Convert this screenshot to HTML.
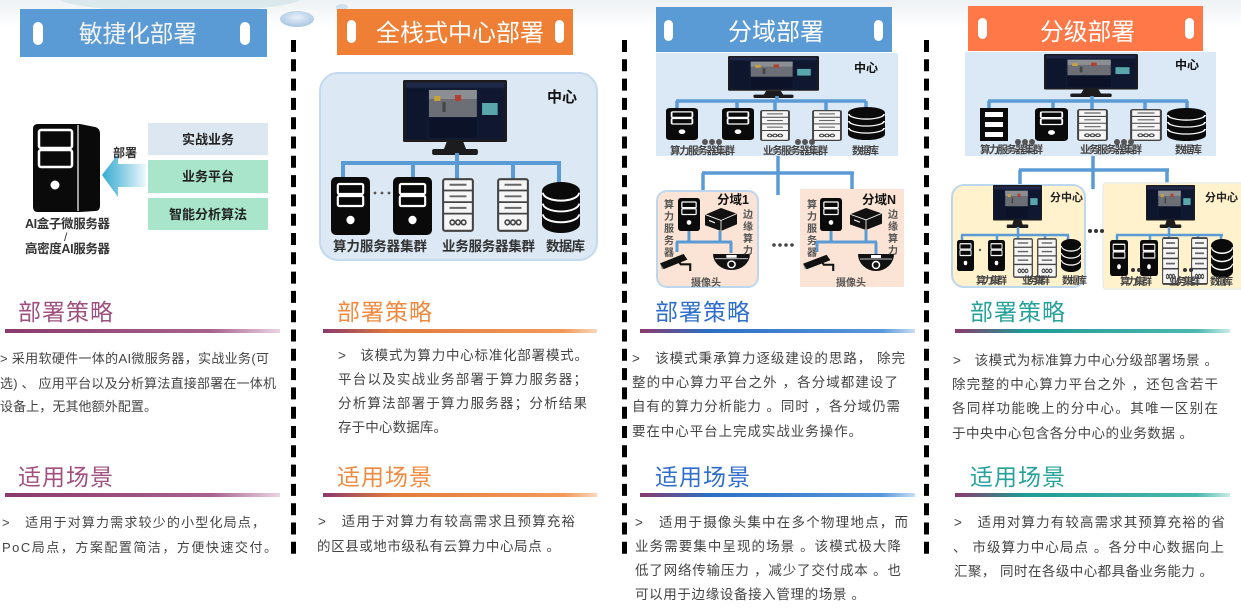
<!DOCTYPE html>
<html><head><meta charset="utf-8"><style>
html,body{margin:0;padding:0;background:#fff;}
svg{display:block;}
text{font-family:"Liberation Sans","Noto Sans CJK SC",sans-serif;white-space:pre;}
</style></head><body>
<svg width="1241" height="610" viewBox="0 0 1241 610" xmlns="http://www.w3.org/2000/svg" xml:space="preserve">
<defs>
<linearGradient id="topbg" x1="0" y1="0" x2="0" y2="1"><stop offset="0" stop-color="#eef2f4"/><stop offset="1" stop-color="#ffffff"/></linearGradient>
<linearGradient id="arr" x1="0" y1="0" x2="1" y2="0"><stop offset="0" stop-color="#35acd2"/><stop offset="0.5" stop-color="#8fd0e6"/><stop offset="1" stop-color="#eef8fb"/></linearGradient>
<linearGradient id="u1" x1="0" y1="0" x2="1" y2="0"><stop offset="0" stop-color="#8a3a6c"/><stop offset="0.75" stop-color="#a8628e"/><stop offset="1" stop-color="#ead4e2"/></linearGradient>
<linearGradient id="u2" x1="0" y1="0" x2="1" y2="0"><stop offset="0" stop-color="#8a3a6c"/><stop offset="0.25" stop-color="#e27a3c"/><stop offset="0.88" stop-color="#f39a5a"/><stop offset="1" stop-color="#fbd8bc"/></linearGradient>
<linearGradient id="u3" x1="0" y1="0" x2="1" y2="0"><stop offset="0" stop-color="#8a3a6c"/><stop offset="0.25" stop-color="#2b6fc2"/><stop offset="0.88" stop-color="#5a98dd"/><stop offset="1" stop-color="#c8ddf2"/></linearGradient>
<linearGradient id="u4" x1="0" y1="0" x2="1" y2="0"><stop offset="0" stop-color="#8a3a6c"/><stop offset="0.25" stop-color="#1f9a94"/><stop offset="0.88" stop-color="#4cb8b0"/><stop offset="1" stop-color="#c8ebe7"/></linearGradient>
<radialGradient id="blob" cx="0.5" cy="0.4" r="0.6"><stop offset="0" stop-color="#e8f1fa"/><stop offset="1" stop-color="#a9c6e2"/></radialGradient>

<symbol id="tw" viewBox="0 0 40 58" preserveAspectRatio="none">
<rect x="0" y="0" width="40" height="58" rx="5" fill="#0a0a0a"/>
<rect x="7" y="7" width="26" height="10" rx="1.5" fill="none" stroke="#fff" stroke-width="2.2"/>
<rect x="7" y="19" width="26" height="10" rx="1.5" fill="none" stroke="#fff" stroke-width="2.2"/>
<circle cx="20" cy="43" r="4.2" fill="#fff"/>
</symbol>
<symbol id="ws" viewBox="0 0 34 56" preserveAspectRatio="none">
<rect x="1.2" y="1.2" width="31.6" height="53.6" rx="2" fill="#f6f6f6" stroke="#444" stroke-width="2.2"/>
<line x1="1" y1="13" x2="33" y2="13" stroke="#444" stroke-width="1.8"/>
<line x1="1" y1="25" x2="33" y2="25" stroke="#444" stroke-width="1.8"/>
<line x1="1" y1="37" x2="33" y2="37" stroke="#444" stroke-width="1.8"/>
<line x1="8" y1="7" x2="26" y2="7" stroke="#666" stroke-width="2"/>
<line x1="8" y1="19" x2="26" y2="19" stroke="#666" stroke-width="2"/>
<line x1="8" y1="31" x2="26" y2="31" stroke="#666" stroke-width="2"/>
<circle cx="11" cy="46" r="2.4" fill="none" stroke="#444" stroke-width="1.7"/>
<circle cx="17" cy="46" r="2.4" fill="none" stroke="#444" stroke-width="1.7"/>
<circle cx="23" cy="46" r="2.4" fill="none" stroke="#444" stroke-width="1.7"/>
</symbol>
<symbol id="db" viewBox="0 0 40 52" preserveAspectRatio="none">
<path d="M0 9 A20 9 0 0 1 40 9 V43 A20 9 0 0 1 0 43 Z" fill="#0a0a0a"/>
<path d="M1 11 A19 8 0 0 0 39 11" stroke="#fff" stroke-width="2" fill="none"/>
<path d="M1 22 A19 8 0 0 0 39 22" stroke="#fff" stroke-width="2" fill="none"/>
<path d="M1 33 A19 8 0 0 0 39 33" stroke="#fff" stroke-width="2" fill="none"/>
</symbol>
<symbol id="mon" viewBox="0 0 100 75" preserveAspectRatio="none">
<rect x="0" y="0" width="100" height="62" rx="1.5" fill="#1c1c1e"/>
<rect x="2.5" y="2.5" width="95" height="57" fill="#111a33"/>
<rect x="2.5" y="2.5" width="95" height="5" fill="#20284a"/>
<rect x="3" y="9" width="20" height="50" fill="#0e162e"/>
<rect x="25" y="10" width="46" height="27" fill="#6c7076"/>
<rect x="25" y="10" width="46" height="9" fill="#8b8f93"/>
<rect x="30" y="16" width="6" height="5" fill="#c8a23a"/>
<rect x="50" y="15" width="6" height="6" fill="#b04030"/>
<rect x="38" y="22" width="3" height="10" fill="#444"/>
<rect x="25" y="38" width="46" height="20" fill="#0c1329"/>
<rect x="73" y="10" width="23" height="48" fill="#0f1830"/>
<rect x="76" y="23" width="15" height="12" fill="#5aa6ad"/>
<polygon points="42,62 58,62 61,70 39,70" fill="#1c1c1e"/>
<rect x="28" y="69" width="44" height="6" rx="2" fill="#1c1c1e"/>
</symbol>
<symbol id="cube" viewBox="0 0 32 24" preserveAspectRatio="none">
<path d="M0 7 L16 0 L32 6 L32 17 L16 24 L0 18 Z" fill="#111"/>
<path d="M0.5 7 L16 13 L31.5 6" stroke="#fff" stroke-width="0.9" fill="none"/>
<line x1="16" y1="13" x2="16" y2="24" stroke="#fff" stroke-width="0.8"/>
<line x1="4" y1="13" x2="10" y2="15.5" stroke="#fff" stroke-width="1.2"/>
</symbol>
<symbol id="bullet" viewBox="0 0 36 20" preserveAspectRatio="none">
<path d="M0 12 L25 2 L29 8 L4 18 Z" fill="#111"/>
<path d="M0 12 L4 18 L2 18 Z" fill="#888"/>
<path d="M20 10 L22 13 L32 13 L32 20" stroke="#111" stroke-width="2.2" fill="none"/>
</symbol>
<symbol id="dome" viewBox="0 0 36 18" preserveAspectRatio="none">
<path d="M0 0 H36 A18 17 0 0 1 0 0 Z" fill="#111"/>
<rect x="13" y="1" width="10" height="3" fill="#fff"/>
<line x1="2" y1="5" x2="34" y2="5" stroke="#fff" stroke-width="0.8"/>
<circle cx="18" cy="11" r="3.5" fill="none" stroke="#fff" stroke-width="1.5"/>
</symbol>
<symbol id="rack" viewBox="0 0 28 33" preserveAspectRatio="none">
<rect x="0" y="0" width="28" height="33" fill="#0a0a0a"/>
<rect x="5" y="4" width="18" height="5" fill="#fff"/>
<rect x="5" y="14" width="18" height="5" fill="#fff"/>
<rect x="5" y="24" width="18" height="5" fill="#fff"/>
</symbol>
</defs>

<!-- background -->
<rect x="0" y="0" width="1241" height="610" fill="#fff"/>
<rect x="0" y="0" width="1241" height="28" fill="url(#topbg)"/>
<ellipse cx="180" cy="-4" rx="125" ry="16" fill="#d6e6ea" opacity="0.8"/>
<ellipse cx="297" cy="19" rx="17" ry="8" fill="url(#blob)"/>
<ellipse cx="342" cy="7" rx="6" ry="3" fill="#cfe0ef"/>

<!-- separators -->
<line x1="293.5" y1="40" x2="293.5" y2="558" stroke="#000" stroke-width="5" stroke-dasharray="12 7.3"/>
<line x1="624.5" y1="40" x2="624.5" y2="558" stroke="#000" stroke-width="5" stroke-dasharray="12 7.3"/>
<line x1="926.5" y1="40" x2="926.5" y2="558" stroke="#000" stroke-width="5" stroke-dasharray="12 7.3"/>

<!-- ===== Column 1 ===== -->
<rect x="20" y="9" width="247" height="48" fill="#5b9bd5"/>
<rect x="33" y="22" width="10" height="23" rx="5" fill="#fff"/>
<rect x="240" y="22" width="10" height="23" rx="5" fill="#fff"/>
<text x="79" y="42" font-size="24" fill="#f4f4f4" textLength="118" lengthAdjust="spacingAndGlyphs">敏捷化部署</text>

<path d="M38 124 H80 L95 127 Q100 128 100 134 V206 Q100 211 95 211 L80 212 H38 Q33 212 33 207 V129 Q33 124 38 124 Z" fill="#0a0a0a"/>
<line x1="78" y1="125" x2="78" y2="211" stroke="#fff" stroke-width="1.2"/>
<rect x="39" y="130" width="33" height="18" rx="2" fill="none" stroke="#fff" stroke-width="2.5"/>
<rect x="39" y="150" width="33" height="17" rx="2" fill="none" stroke="#fff" stroke-width="2.5"/>
<circle cx="55" cy="185" r="4.5" fill="#fff"/>
<polygon points="102,175 118,154 118,164 146,164 146,187 118,187 118,197" fill="url(#arr)"/>
<text x="113" y="157" font-size="12" font-weight="bold" fill="#333" textLength="24">部署</text>
<rect x="148" y="123" width="120" height="32" fill="#dde7f2"/>
<rect x="148" y="160" width="120" height="33" fill="#a9e5cb"/>
<rect x="148" y="198" width="120" height="32" fill="#a9e5cb"/>
<text x="208" y="144" font-size="13" font-weight="bold" fill="#222" text-anchor="middle">实战业务</text>
<text x="208" y="181" font-size="13" font-weight="bold" fill="#222" text-anchor="middle">业务平台</text>
<text x="208" y="219" font-size="13" font-weight="bold" fill="#222" text-anchor="middle">智能分析算法</text>
<text x="25" y="228" font-size="12.5" font-weight="bold" fill="#333" textLength="85">AI盒子微服务器</text>
<text x="64" y="241" font-size="12" fill="#333">/</text>
<text x="25" y="253" font-size="12.5" font-weight="bold" fill="#333" textLength="85">高密度AI服务器</text>

<text x="18" y="320" font-size="23" fill="#a0507f" textLength="95">部署策略</text>
<rect x="5" y="329" width="275" height="4" fill="url(#u1)"/>
<g font-size="13" fill="#444">
<text x="0" y="363" textLength="269" lengthAdjust="spacing">&gt; 采用软硬件一体的AI微服务器，实战业务(可</text>
<text x="0" y="388" textLength="276" lengthAdjust="spacing">选) 、 应用平台以及分析算法直接部署在一体机</text>
<text x="0" y="411" textLength="157" lengthAdjust="spacing">设备上，无其他额外配置。</text>
</g>
<text x="18" y="485" font-size="23" fill="#a0507f" textLength="95">适用场景</text>
<rect x="5" y="493" width="275" height="4" fill="url(#u1)"/>
<g font-size="13" fill="#444">
<text x="2" y="527" textLength="263" lengthAdjust="spacing">&gt;   适用于对算力需求较少的小型化局点，</text>
<text x="2" y="552" textLength="275" lengthAdjust="spacing">PoC局点，方案配置简洁，方便快速交付。</text>
</g>

<!-- ===== Column 2 ===== -->
<rect x="337" y="9" width="236" height="46" fill="#ee7f35"/>
<rect x="347" y="20" width="9" height="23" rx="4.5" fill="#fff"/>
<rect x="555" y="20" width="9" height="23" rx="4.5" fill="#fff"/>
<text x="376" y="41" font-size="24" fill="#fff" textLength="168" lengthAdjust="spacingAndGlyphs">全栈式中心部署</text>

<rect x="320" y="73" width="277" height="187" rx="18" fill="#dce9f5" stroke="#c2d9ee" stroke-width="2"/>
<use href="#mon" x="403" y="80" width="104" height="75"/>
<text x="547" y="102" font-size="15" font-weight="bold" fill="#111">中心</text>
<g stroke="#5b9bd5" stroke-width="4" fill="none">
<line x1="341" y1="163" x2="561" y2="163"/>
<line x1="457" y1="153" x2="457" y2="163"/>
<line x1="343" y1="163" x2="343" y2="180"/>
<line x1="413" y1="163" x2="413" y2="180"/>
<line x1="457" y1="163" x2="457" y2="180"/>
<line x1="513" y1="163" x2="513" y2="180"/>
<line x1="559" y1="163" x2="559" y2="184"/>
</g>
<use href="#tw" x="331" y="177" width="39" height="58"/>
<use href="#tw" x="393" y="177" width="39" height="58"/>
<circle cx="375" cy="193" r="1.4" fill="#555"/><circle cx="382" cy="193" r="1.4" fill="#555"/><circle cx="389" cy="193" r="1.4" fill="#555"/>
<use href="#ws" x="442" y="178" width="32" height="54"/>
<use href="#ws" x="497" y="178" width="32" height="54"/>
<use href="#db" x="542" y="182" width="38" height="51"/>
<g font-size="13.5" font-weight="bold" fill="#333">
<text x="333" y="251" textLength="94">算力服务器集群</text>
<text x="442" y="251" textLength="93">业务服务器集群</text>
<text x="546" y="251" textLength="39">数据库</text>
</g>

<text x="337" y="320" font-size="23" fill="#f08a40" textLength="95">部署策略</text>
<rect x="323" y="329" width="274" height="4" fill="url(#u2)"/>
<g font-size="13.5" fill="#444">
<text x="338" y="360" textLength="250" lengthAdjust="spacing">&gt;   该模式为算力中心标准化部署模式。</text>
<text x="338" y="384" textLength="249" lengthAdjust="spacing">平台以及实战业务部署于算力服务器；</text>
<text x="338" y="408" textLength="249" lengthAdjust="spacing">分析算法部署于算力服务器；分析结果</text>
<text x="338" y="432" textLength="109" lengthAdjust="spacing">存于中心数据库。</text>
</g>
<text x="337" y="485" font-size="23" fill="#f08a40" textLength="95">适用场景</text>
<rect x="323" y="493" width="274" height="4" fill="url(#u2)"/>
<g font-size="13.5" fill="#444">
<text x="318" y="526" textLength="257" lengthAdjust="spacing">&gt;   适用于对算力有较高需求且预算充裕</text>
<text x="317" y="551" textLength="243" lengthAdjust="spacing">的区县或地市级私有云算力中心局点 。</text>
</g>

<!-- ===== Column 3 ===== -->
<rect x="656" y="7" width="236" height="45" fill="#5b9bd5"/>
<rect x="664" y="20" width="9" height="21" rx="4.5" fill="#fff"/>
<rect x="874" y="20" width="9" height="21" rx="4.5" fill="#fff"/>
<text x="728" y="40" font-size="24" fill="#fff" textLength="96" lengthAdjust="spacingAndGlyphs">分域部署</text>

<rect x="656" y="53" width="242" height="103" fill="#dbe8f5"/>
<use href="#mon" x="728" y="56" width="91" height="42"/>
<text x="854" y="72" font-size="12" font-weight="bold" fill="#111">中心</text>
<g stroke="#5b9bd5" stroke-width="3.5" fill="none">
<line x1="676" y1="101" x2="866" y2="101"/>
<line x1="777" y1="96" x2="777" y2="101"/>
<line x1="677" y1="101" x2="677" y2="110"/>
<line x1="737" y1="101" x2="737" y2="110"/>
<line x1="775" y1="101" x2="775" y2="111"/>
<line x1="826" y1="101" x2="826" y2="111"/>
<line x1="866" y1="101" x2="866" y2="110"/>
<line x1="778" y1="156" x2="778" y2="195"/>
<line x1="702" y1="173" x2="854" y2="173"/>
<line x1="703" y1="173" x2="703" y2="192"/>
<line x1="852" y1="173" x2="852" y2="190"/>
</g>
<use href="#tw" x="666" y="108" width="32" height="32"/>
<use href="#tw" x="722" y="108" width="32" height="32"/>
<use href="#ws" x="760" y="110" width="30" height="31"/>
<use href="#ws" x="812" y="110" width="30" height="31"/>
<use href="#db" x="848" y="107" width="37" height="33"/>
<g fill="#555"><circle cx="705" cy="142" r="3"/><circle cx="712" cy="142" r="3"/><circle cx="719" cy="142" r="3"/>
<circle cx="798" cy="142" r="3"/><circle cx="805" cy="142" r="3"/><circle cx="812" cy="142" r="3"/></g>
<g font-size="10.5" font-weight="bold" fill="#444">
<text x="670" y="154" textLength="65">算力服务器集群</text>
<text x="763" y="154" textLength="65">业务服务器集群</text>
<text x="852" y="154" textLength="27">数据库</text>
</g>

<rect x="657" y="191" width="101" height="96" rx="10" fill="#fbe4d5" stroke="#bdd7ee" stroke-width="2"/>
<rect x="800" y="189" width="104" height="98" fill="#fbe4d5"/>
<g fill="#444"><circle cx="774" cy="245" r="1.8"/><circle cx="780" cy="245" r="1.8"/><circle cx="786" cy="245" r="1.8"/><circle cx="792" cy="245" r="1.8"/></g>

<!-- 分域1 -->
<text x="717" y="204" font-size="12.5" font-weight="bold" fill="#111">分域1</text>
<use href="#tw" x="678" y="198" width="22" height="33"/>
<use href="#cube" x="705" y="208" width="32" height="23"/>
<g stroke="#5b9bd5" stroke-width="3" fill="none">
<line x1="689" y1="231" x2="689" y2="242"/>
<line x1="720" y1="231" x2="720" y2="242"/>
<line x1="676" y1="242" x2="732" y2="242"/>
<line x1="677" y1="242" x2="677" y2="252"/>
<line x1="731" y1="242" x2="731" y2="253"/>
</g>
<use href="#bullet" x="660" y="252" width="34" height="19"/>
<use href="#dome" x="713" y="254" width="37" height="17"/>
<g font-size="10" font-weight="bold" fill="#555" text-anchor="middle">
<text x="669" y="208">算</text><text x="669" y="220">力</text><text x="669" y="232">服</text><text x="669" y="244">务</text><text x="669" y="256">器</text>
<text x="748" y="218">边</text><text x="748" y="230">缘</text><text x="748" y="242">算</text><text x="748" y="254">力</text>
<text x="706" y="286">摄像头</text>
</g>

<!-- 分域N -->
<text x="862" y="204" font-size="12.5" font-weight="bold" fill="#111">分域N</text>
<use href="#tw" x="820" y="198" width="22" height="33"/>
<use href="#cube" x="850" y="208" width="32" height="22"/>
<g stroke="#5b9bd5" stroke-width="3" fill="none">
<line x1="831" y1="231" x2="831" y2="242"/>
<line x1="866" y1="230" x2="866" y2="242"/>
<line x1="816" y1="242" x2="877" y2="242"/>
<line x1="817" y1="242" x2="817" y2="252"/>
<line x1="876" y1="242" x2="876" y2="254"/>
</g>
<use href="#bullet" x="803" y="253" width="34" height="18"/>
<use href="#dome" x="858" y="254" width="36" height="18"/>
<g font-size="10" font-weight="bold" fill="#555" text-anchor="middle">
<text x="812" y="208">算</text><text x="812" y="220">力</text><text x="812" y="232">服</text><text x="812" y="244">务</text><text x="812" y="256">器</text>
<text x="893" y="218">边</text><text x="893" y="230">缘</text><text x="893" y="242">算</text><text x="893" y="254">力</text>
<text x="851" y="286">摄像头</text>
</g>

<text x="655" y="320" font-size="23" fill="#2f6fcb" textLength="95">部署策略</text>
<rect x="640" y="329" width="275" height="4" fill="url(#u3)"/>
<g font-size="13.5" fill="#444">
<text x="632" y="363" textLength="273" lengthAdjust="spacing">&gt;   该模式秉承算力逐级建设的思路， 除完</text>
<text x="632" y="387" textLength="266" lengthAdjust="spacing">整的中心算力平台之外 ，各分域都建设了</text>
<text x="632" y="411" textLength="268" lengthAdjust="spacing">自有的算力分析能力 。同时 ，各分域仍需</text>
<text x="632" y="436" textLength="230" lengthAdjust="spacing">要在中心平台上完成实战业务操作。</text>
</g>
<text x="655" y="485" font-size="23" fill="#2f6fcb" textLength="95">适用场景</text>
<rect x="640" y="493" width="275" height="4" fill="url(#u3)"/>
<g font-size="13.5" fill="#444">
<text x="635" y="527" textLength="273" lengthAdjust="spacing">&gt;   适用于摄像头集中在多个物理地点，而</text>
<text x="635" y="551" textLength="266" lengthAdjust="spacing">业务需要集中呈现的场景 。该模式极大降</text>
<text x="635" y="575" textLength="266" lengthAdjust="spacing">低了网络传输压力 ，减少了交付成本 。也</text>
<text x="635" y="599" textLength="230" lengthAdjust="spacing">可以用于边缘设备接入管理的场景 。</text>
</g>

<!-- ===== Column 4 ===== -->
<rect x="968" y="6" width="235" height="45" fill="#fe7848"/>
<rect x="978" y="18" width="9" height="21" rx="4.5" fill="#fff"/>
<rect x="1185" y="18" width="9" height="21" rx="4.5" fill="#fff"/>
<text x="1040" y="40" font-size="24" fill="#fff" textLength="95" lengthAdjust="spacingAndGlyphs">分级部署</text>

<rect x="965" y="52" width="251" height="104" fill="#dbe8f5"/>
<use href="#mon" x="1044" y="54" width="94" height="43"/>
<text x="1175" y="69" font-size="12" font-weight="bold" fill="#111">中心</text>
<g stroke="#5b9bd5" stroke-width="3.5" fill="none">
<line x1="988" y1="101" x2="1188" y2="101"/>
<line x1="1092" y1="96" x2="1092" y2="101"/>
<line x1="989" y1="101" x2="989" y2="109"/>
<line x1="1053" y1="101" x2="1053" y2="109"/>
<line x1="1092" y1="101" x2="1092" y2="110"/>
<line x1="1145" y1="101" x2="1145" y2="110"/>
<line x1="1187" y1="101" x2="1187" y2="110"/>
<line x1="1093" y1="156" x2="1093" y2="189"/>
<line x1="1019" y1="170" x2="1169" y2="170"/>
<line x1="1020" y1="170" x2="1020" y2="187"/>
<line x1="1167" y1="170" x2="1167" y2="185"/>
</g>
<use href="#rack" x="980" y="108" width="28" height="33"/>
<use href="#tw" x="1035" y="108" width="33" height="33"/>
<use href="#ws" x="1077" y="109" width="31" height="32"/>
<use href="#ws" x="1130" y="109" width="32" height="32"/>
<use href="#db" x="1167" y="108" width="39" height="33"/>
<g fill="#555"><circle cx="1018" cy="142" r="3"/><circle cx="1025" cy="142" r="3"/><circle cx="1032" cy="142" r="3"/>
<circle cx="1117" cy="142" r="3"/><circle cx="1124" cy="142" r="3"/><circle cx="1131" cy="142" r="3"/></g>
<g font-size="10.5" font-weight="bold" fill="#444">
<text x="980" y="153" textLength="63">算力服务器集群</text>
<text x="1080" y="153" textLength="62">业务服务器集群</text>
<text x="1175" y="153" textLength="27">数据库</text>
</g>

<rect x="952" y="185" width="133" height="102" rx="12" fill="#fff2cc" stroke="#bdd7ee" stroke-width="2"/>
<rect x="1103" y="183" width="140" height="106" rx="3" fill="#fff2cc" stroke="#ececec" stroke-width="1.5"/>
<g fill="#333"><circle cx="1090" cy="231" r="2"/><circle cx="1096" cy="231" r="2"/><circle cx="1102" cy="231" r="2"/></g>

<!-- left sub center -->
<use href="#mon" x="993" y="185" width="49" height="43"/>
<text x="1050" y="201" font-size="11" font-weight="bold" fill="#222">分中心</text>
<g stroke="#5b9bd5" stroke-width="2.5" fill="none">
<line x1="961" y1="235" x2="1069" y2="235"/>
<line x1="1018" y1="227" x2="1018" y2="235"/>
<line x1="962" y1="235" x2="962" y2="241"/>
<line x1="997" y1="235" x2="997" y2="241"/>
<line x1="1018" y1="235" x2="1018" y2="240"/>
<line x1="1045" y1="235" x2="1045" y2="240"/>
<line x1="1068" y1="235" x2="1068" y2="241"/>
</g>
<use href="#tw" x="957" y="240" width="17" height="31"/>
<use href="#tw" x="988" y="240" width="17" height="31"/>
<use href="#ws" x="1013" y="238" width="20" height="40"/>
<use href="#ws" x="1037" y="238" width="20" height="40"/>
<use href="#db" x="1061" y="239" width="20" height="33"/>
<circle cx="980" cy="250" r="1.2" fill="#555"/>
<g font-size="10" font-weight="bold" fill="#444">
<text x="976" y="284" textLength="31">算力集群</text>
<text x="1022" y="284" textLength="28">业务集群</text>
<text x="1062" y="284" textLength="25">数据库</text>
</g>

<!-- right sub center -->
<use href="#mon" x="1146" y="185" width="49" height="43"/>
<text x="1205" y="201" font-size="11" font-weight="bold" fill="#222">分中心</text>
<g stroke="#5b9bd5" stroke-width="2.5" fill="none">
<line x1="1116" y1="235" x2="1223" y2="235"/>
<line x1="1169" y1="227" x2="1169" y2="235"/>
<line x1="1117" y1="235" x2="1117" y2="241"/>
<line x1="1150" y1="235" x2="1150" y2="241"/>
<line x1="1169" y1="235" x2="1169" y2="238"/>
<line x1="1198" y1="235" x2="1198" y2="238"/>
<line x1="1221" y1="235" x2="1221" y2="241"/>
</g>
<use href="#tw" x="1110" y="240" width="18" height="36"/>
<use href="#tw" x="1140" y="240" width="18" height="36"/>
<use href="#ws" x="1162" y="237" width="17" height="48"/>
<use href="#ws" x="1191" y="237" width="17" height="48"/>
<use href="#db" x="1211" y="239" width="22" height="39"/>
<g fill="#333"><circle cx="1133" cy="270" r="2"/><circle cx="1139" cy="270" r="2"/><circle cx="1185" cy="270" r="2"/><circle cx="1191" cy="270" r="2"/></g>
<g font-size="10" font-weight="bold" fill="#444">
<text x="1120" y="285" textLength="32">算力集群</text>
<text x="1169" y="285" textLength="31">业务集群</text>
<text x="1210" y="285" textLength="23">数据库</text>
</g>

<text x="970" y="320" font-size="23" fill="#26a29a" textLength="95">部署策略</text>
<rect x="955" y="329" width="275" height="4" fill="url(#u4)"/>
<g font-size="13.5" fill="#444">
<text x="953" y="365" textLength="265" lengthAdjust="spacing">&gt;   该模式为标准算力中心分级部署场景 。</text>
<text x="952" y="389" textLength="266" lengthAdjust="spacing">除完整的中心算力平台之外 ，还包含若干</text>
<text x="952" y="413" textLength="266" lengthAdjust="spacing">各同样功能晚上的分中心。其唯一区别在</text>
<text x="952" y="438" textLength="241" lengthAdjust="spacing">于中央中心包含各分中心的业务数据 。</text>
</g>
<text x="970" y="485" font-size="23" fill="#26a29a" textLength="95">适用场景</text>
<rect x="955" y="493" width="275" height="4" fill="url(#u4)"/>
<g font-size="13.5" fill="#444">
<text x="954" y="527" textLength="271" lengthAdjust="spacing">&gt;   适用对算力有较高需求其预算充裕的省</text>
<text x="953" y="552" textLength="271" lengthAdjust="spacing">、 市级算力中心局点 。各分中心数据向上</text>
<text x="954" y="576" textLength="259" lengthAdjust="spacing">汇聚， 同时在各级中心都具备业务能力 。</text>
</g>
</svg>
</body></html>
